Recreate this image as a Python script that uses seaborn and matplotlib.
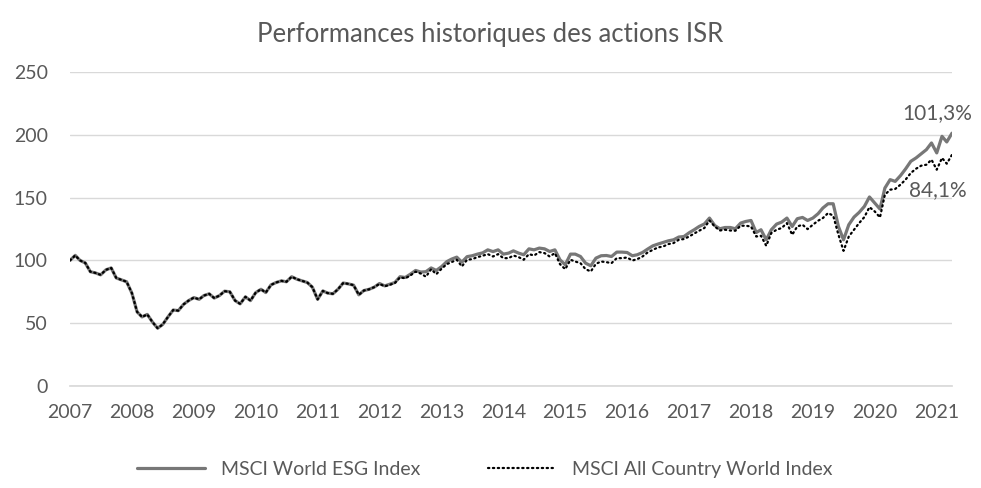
import numpy as np
import pandas as pd
import matplotlib
matplotlib.use("Agg")
import matplotlib.pyplot as plt
import matplotlib.dates as mdates
import seaborn as sns

# monthly index levels, Jan 2007 = 100
esg = [
    100, 104, 100, 98, 91, 90, 88.5, 92.5, 94, 86, 84.5, 83,            # 2007
    74, 59, 55, 57, 51, 46, 49, 55, 60.5, 60, 65, 68,                   # 2008
    70.4, 69, 72, 73.4, 70, 72, 75.5, 75, 68, 65.4, 71, 68,             # 2009
    74.4, 77, 74.4, 80.5, 82.4, 83.7, 83, 87, 85, 83.7, 82.4, 78.7,     # 2010
    69, 75.7, 74, 73.4, 77, 82, 81.3, 80.3, 72.6, 76, 77, 78.7,         # 2011
    81.6, 79.7, 81, 82.4, 87, 86.4, 89, 92, 90.7, 91, 94, 92,           # 2012
    95, 99, 101, 102.6, 98.6, 103, 103.7, 105, 106, 108.4, 107, 108.4,  # 2013
    105, 105.8, 107.6, 105.8, 104.5, 109.2, 108.4, 109.8, 109.2, 107.1, 108.4, 100.5,  # 2014
    96.5, 105, 105, 103.1, 97.8, 95.7, 101.8, 103.7, 103.9, 103.1, 106.6, 106.6,       # 2015
    106.3, 103.7, 104.5, 106.3, 109, 111.6, 113, 114.3, 115.6, 116.4, 118.6, 119,      # 2016
    122, 124.5, 127, 129, 133.7, 127.8, 125.2, 126.2, 126.2, 125.2, 129.7, 131,        # 2017
    131.8, 122.2, 124.4, 116.4, 124.4, 128.9, 130.5, 133.7, 127, 133.2, 134.2, 131.8,  # 2018
    133.7, 137.2, 141.7, 145.1, 145.1, 127, 116.4, 128.4, 134.5, 138.2, 143, 150.5,    # 2019
    145.7, 140.9, 157.6, 164.3, 162.9, 167.5, 172.8, 178.9, 181.6, 184.8, 188.2, 193.5,  # 2020
    185.6, 198.8, 194.3, 201.3,                                          # 2021
]
acwi = [
    100, 104, 100, 98, 91, 90, 88.5, 92.5, 94, 86, 84.5, 83,
    74, 59, 55, 57, 51, 46, 49, 55, 60.5, 60, 65, 68,
    70.4, 69, 72, 73.4, 70, 72, 75.5, 75, 68, 65.4, 71, 68,
    74.4, 77, 74.4, 80.5, 82.4, 83.7, 83, 87, 85, 83.7, 82.4, 78.7,
    69, 75.7, 74, 73.4, 77, 82, 81.3, 80.3, 72.6, 76, 77, 78.7,
    81.3, 79.4, 80.5, 82, 86.5, 85.7, 88, 91, 89.5, 87, 93, 89,
    93.3, 97, 98.6, 100.5, 95.2, 100.5, 101, 102.6, 103.7, 105, 103.1, 105,
    101.8, 101.8, 103.9, 102.6, 100.5, 105, 103.9, 106.6, 105.8, 103.1, 105.8, 97,
    93, 100.5, 99.1, 97.8, 93, 91.2, 97.3, 99.1, 98.6, 97.8, 101.8, 101.8,
    102.3, 99.9, 101, 103.1, 106.3, 108.4, 110.3, 111.1, 113, 113.8, 116.4, 117,
    119, 121.5, 123.6, 125.8, 131.8, 127, 123.8, 124.4, 123.8, 123.6, 127.6, 127.6,
    127, 119, 119.6, 111.6, 121.8, 124.4, 125.8, 129.7, 120.4, 127, 128.4, 124.9,
    128.4, 131.6, 133.7, 137.7, 135.6, 120.4, 107.6, 119, 124.4, 129.7, 134.5, 142.4,
    139, 134.2, 152.3, 156.3, 156.9, 160.3, 164.3, 169.6, 173, 175.4, 176.2, 180.2,
    172.2, 181.6, 177, 184.1,
]
dates = pd.date_range("2007-01-01", periods=len(esg), freq="MS")
labels = ["MSCI World ESG Index", "MSCI All Country World Index"]
gain_labels = ["101,3%", "84,1%"]

df = pd.DataFrame({"date": dates, "esg": esg, "acwi": acwi})

sns.set_theme(style="white")
plt.rcParams["font.family"] = ["Lato", "DejaVu Sans"]
txt = "#595959"

fig = plt.figure(figsize=(9.81, 4.88), dpi=100)
ax = fig.add_axes([70 / 981, 1 - 386 / 488, 882 / 981, 314 / 488])

sns.lineplot(data=df, x="date", y="esg", ax=ax, color="#777777", linewidth=2.3, label=labels[0])
sns.lineplot(data=df, x="date", y="acwi", ax=ax, color="black", linewidth=1.6,
             linestyle=(0, (0.6, 1.6)), dash_capstyle="round", label=labels[1])

ax.set_ylim(0, 250)
ax.set_xlim(dates[0], dates[-1])
ax.set_yticks(range(0, 251, 50))
ax.xaxis.set_major_locator(mdates.YearLocator())
ax.xaxis.set_major_formatter(mdates.DateFormatter("%Y"))
ax.grid(axis="y", color="#d9d9d9", linewidth=1)
ax.tick_params(axis="both", length=0, labelsize=14, colors=txt)
ax.tick_params(axis="y", pad=16)
ax.tick_params(axis="x", pad=13)
for s in ["top", "right", "left"]:
    ax.spines[s].set_visible(False)
ax.spines["bottom"].set_color("#d9d9d9")
ax.set_xlabel("")
ax.set_ylabel("")

ax.annotate(gain_labels[0], xy=(dates[-1], esg[-1]), xytext=(-11, 7), textcoords="offset points",
            ha="center", va="bottom", fontsize=15, color=txt)
ax.annotate(gain_labels[1], xy=(dates[-1], acwi[-1]), xytext=(-10, -18), textcoords="offset points",
            ha="center", va="top", fontsize=15, color=txt)

fig.suptitle("Performances historiques des actions ISR", y=0.955, fontsize=18.5, color=txt)
leg = ax.legend(loc="center", bbox_to_anchor=(0.5 - 0.03, -0.265), ncol=2, frameon=False,
                fontsize=14, handlelength=3.5, columnspacing=3.5)
for t in leg.get_texts():
    t.set_color(txt)

fig.savefig("out.png", dpi=100)
